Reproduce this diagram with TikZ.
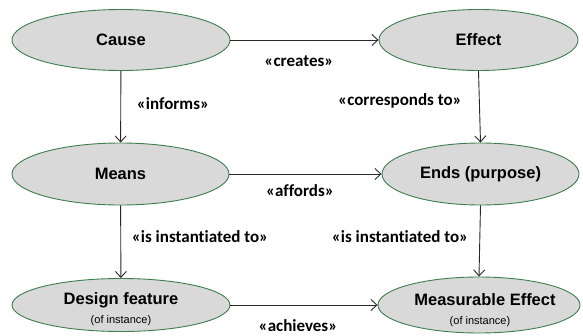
\documentclass[tikz,border=0pt]{standalone}
\usepackage{fontspec}
\setmainfont{Liberation Sans}
\newfontfamily\lblfont[Ligatures=NoCommon]{Carlito}
\usetikzlibrary{shapes.geometric,arrows.meta}
\definecolor{edgegreen}{RGB}{62,125,78}
\definecolor{ovalfill}{RGB}{217,217,217}
\definecolor{linegray}{RGB}{40,40,40}
\tikzset{
  oval/.style={ellipse, draw=edgegreen, fill=ovalfill, line width=0.9pt, inner sep=0pt,
    font=\fontsize{16.5}{18}\selectfont\bfseries, align=center},
  rel/.style={draw=linegray, line width=0.9pt, -{Straight Barb[length=6pt,width=11pt]}},
  lbl/.style={font=\lblfont\fontsize{17}{19}\selectfont\bfseries, inner sep=0pt},
  sub/.style={font=\fontsize{11}{13}\selectfont\mdseries}
}
\begin{document}
\begin{tikzpicture}[x=1pt,y=-1pt]
\useasboundingbox (0,0) rectangle (583,335);
\node[oval, minimum width=218pt, minimum height=61pt] (cause) at (121,40) {Cause};
\node[oval, minimum width=199pt, minimum height=61pt] (effect) at (478.5,40) {Effect};
\node[oval, minimum width=217pt, minimum height=62pt] (means) at (120.5,174) {Means};
\node[oval, minimum width=197pt, minimum height=62pt] (ends) at (480.5,174) {Ends (purpose)};
\node[oval, minimum width=218pt, minimum height=53pt] (design) at (121,305) {};
\node[oval, minimum width=202pt, minimum height=56pt] (meas) at (479,305) {};
\node[font=\fontsize{16.5}{18}\selectfont\bfseries, inner sep=0pt] (designt) at (121,300) {Design feature};
\node[sub, inner sep=0pt] (designs) at (121,321) {(of instance)};
\node[font=\fontsize{16.5}{18}\selectfont\bfseries, inner sep=0pt] (meast) at (485,300) {Measurable Effect};
\node[sub, inner sep=0pt] (meass) at (480,322) {(of instance)};

\draw[rel] (cause) -- (effect);
\draw[rel] (cause) -- (means);
\draw[rel] (effect.south) -- (ends.north);
\draw[rel] (means) -- (ends);
\draw[rel] (means) -- (design);
\draw[rel] (ends.south) -- (meas.north);
\draw[rel] (design) -- (meas);

\node[lbl] (l1) at (299,61) {«creates»};
\node[lbl] (l2) at (173,104) {«informs»};
\node[lbl] (l3) at (400,101) {«corresponds to»};
\node[lbl] (l4) at (300,191) {«affords»};
\node[lbl] (l5) at (200,237) {«is instantiated to»};
\node[lbl] (l6) at (400,237) {«is instantiated to»};
\node[lbl] (l7) at (298,326) {«achieves»};
\end{tikzpicture}
\end{document}
